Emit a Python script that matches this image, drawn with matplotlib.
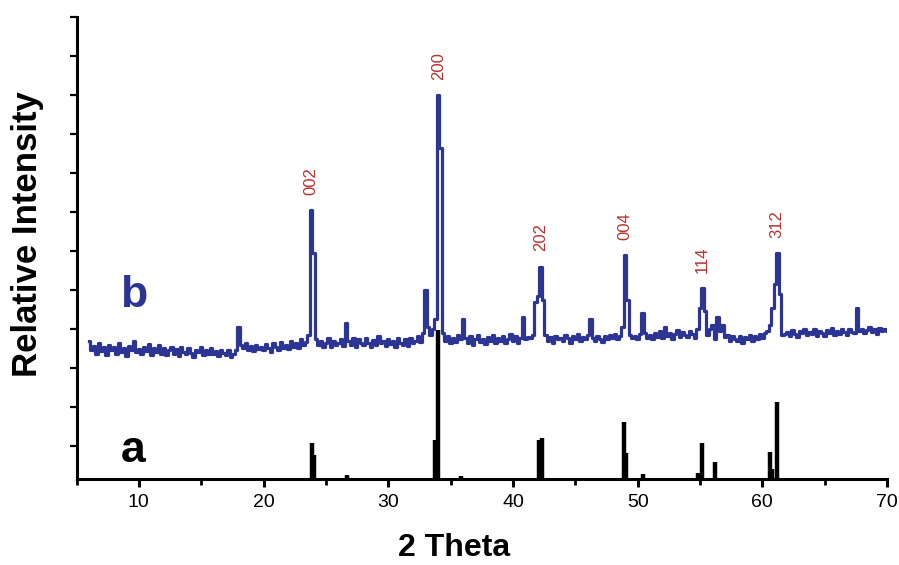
import numpy as np
import matplotlib
matplotlib.use("Agg")
import matplotlib.pyplot as plt
from matplotlib.ticker import MultipleLocator

plt.rcParams['font.family'] = ['Liberation Sans', 'DejaVu Sans']

# measured pattern (b), 2theta from 6.0 to 70.0 in 0.2 steps
theta_b = np.round(np.arange(6.0, 70.01, 0.2), 1)
inten_b = [
    3.55, 3.30, 3.42, 3.20, 3.48, 3.28, 3.40, 3.18, 3.45, 3.30,   # 6
    3.38, 3.22, 3.50, 3.27, 3.35, 3.15, 3.42, 3.30, 3.55, 3.25,   # 8
    3.33, 3.20, 3.40, 3.28, 3.47, 3.18, 3.36, 3.26, 3.44, 3.22,   # 10
    3.35, 3.17, 3.30, 3.40, 3.22, 3.33, 3.15, 3.38, 3.27, 3.20,   # 12
    3.36, 3.24, 3.12, 3.32, 3.25, 3.40, 3.18, 3.30, 3.22, 3.35,   # 14
    3.20, 3.28, 3.15, 3.30, 3.24, 3.18, 3.32, 3.14, 3.22, 3.30,   # 16
    3.90, 3.45, 3.35, 3.48, 3.30, 3.42, 3.28, 3.45, 3.33, 3.40,   # 18
    3.30, 3.46, 3.35, 3.25, 3.50, 3.38, 3.30, 3.52, 3.36, 3.44,   # 20
    3.34, 3.55, 3.40, 3.48, 3.36, 3.58, 3.44, 3.52, 3.70, 6.90,   # 22
    5.80, 3.60, 3.45, 3.55, 3.38, 3.50, 3.62, 3.40, 3.55, 3.45,   # 24
    3.48, 3.60, 3.42, 4.00, 3.55, 3.45, 3.62, 3.40, 3.58, 3.50,   # 26
    3.44, 3.62, 3.50, 3.40, 3.57, 3.45, 3.66, 3.48, 3.55, 3.42,   # 28
    3.60, 3.47, 3.55, 3.40, 3.63, 3.50, 3.45, 3.58, 3.42, 3.62,   # 30
    3.48, 3.55, 3.68, 3.52, 3.75, 4.85, 3.90, 3.70, 3.85, 4.10,   # 32
    9.85, 8.50, 3.75, 3.55, 3.68, 3.48, 3.62, 3.52, 3.70, 3.58,   # 34
    4.10, 3.62, 3.50, 3.66, 3.45, 3.58, 3.70, 3.52, 3.60, 3.47,   # 36
    3.64, 3.55, 3.70, 3.48, 3.62, 3.53, 3.68, 3.50, 3.60, 3.72,   # 38
    3.55, 3.66, 3.50, 3.62, 4.15, 3.58, 3.65, 3.62, 3.70, 4.55,   # 40
    4.70, 5.45, 4.60, 3.70, 3.55, 3.65, 3.50, 3.68, 3.58, 3.62,   # 42
    3.55, 3.70, 3.62, 3.50, 3.66, 3.58, 3.72, 3.54, 3.64, 3.60,   # 44
    3.70, 4.10, 3.62, 3.55, 3.68, 3.60, 3.52, 3.66, 3.58, 3.70,   # 46
    3.62, 3.72, 3.58, 3.68, 3.90, 5.75, 4.60, 3.70, 3.62, 3.66,   # 48
    3.60, 3.72, 4.25, 3.75, 3.62, 3.70, 3.58, 3.74, 3.65, 3.80,   # 50
    3.62, 3.90, 3.68, 3.75, 3.60, 3.72, 3.82, 3.65, 3.78, 3.70,   # 52
    3.64, 3.80, 3.72, 3.62, 3.85, 4.40, 4.90, 4.30, 3.70, 3.85,   # 54
    3.95, 3.60, 4.15, 3.80, 3.95, 3.65, 3.70, 3.55, 3.68, 3.60,   # 56
    3.55, 3.68, 3.50, 3.64, 3.58, 3.70, 3.55, 3.66, 3.60, 3.72,   # 58
    3.62, 3.75, 3.80, 3.95, 4.40, 5.00, 5.80, 4.75, 3.70, 3.72,   # 60
    3.78, 3.68, 3.82, 3.72, 3.65, 3.80, 3.74, 3.85, 3.70, 3.78,   # 62
    3.72, 3.84, 3.68, 3.80, 3.75, 3.66, 3.82, 3.74, 3.88, 3.70,   # 64
    3.80, 3.72, 3.86, 3.76, 3.70, 3.84, 3.78, 3.74, 4.40, 3.80,   # 66
    3.85, 3.74, 3.82, 3.90, 3.76, 3.84, 3.72, 3.88, 3.80, 3.86,   # 68
    3.80,                                                         # 70
]

# reference stick pattern (a)
theta_a = [23.85, 24.05, 26.7, 33.75, 33.95, 35.85, 42.05, 42.3, 48.9, 49.05,
           50.45, 54.85, 55.15, 56.2, 60.6, 60.8, 61.15]
inten_a = [0.92, 0.62, 0.10, 1.00, 3.82, 0.08, 1.00, 1.05, 1.46, 0.67,
           0.14, 0.15, 0.92, 0.44, 0.70, 0.25, 1.97]

# miller indices of labelled peaks
hkl_pos = [23.8, 34.0, 42.2, 49.0, 55.2, 61.2]
hkl_txt = ['002', '200', '202', '004', '114', '312']

blue = '#2c3594'
red = '#b8312f'

fig = plt.figure(figsize=(8.99, 5.65), dpi=100)
ax = fig.add_axes([0.0851, 0.152, 0.9016, 0.818])

ax.plot(theta_b, inten_b, color=blue, lw=2.3, drawstyle='steps-mid')
ax.vlines(theta_a, 0, inten_a, color='black', lw=3.2)

for pos, txt in zip(hkl_pos, hkl_txt):
    peak = inten_b[int(np.argmin(np.abs(theta_b - pos)))]
    ax.annotate(txt, (pos, peak), xytext=(0, 11), textcoords='offset points',
                rotation=90, ha='center', va='bottom', color=red, fontsize=12)

ax.text(9.55, 4.41, 'b', color=blue, fontsize=32, fontweight='bold',
        ha='center', va='baseline')
ax.text(9.55, 0.44, 'a', color='black', fontsize=32, fontweight='bold',
        ha='center', va='baseline')

ax.set_xlim(5, 70)
ax.set_ylim(0, 11.85)
ax.xaxis.set_major_locator(MultipleLocator(10))
ax.xaxis.set_minor_locator(MultipleLocator(5))
ax.set_yticks(np.arange(0.85, 11.9, 1.0))
ax.set_yticklabels([])

for side in ['top', 'right']:
    ax.spines[side].set_visible(False)
for side in ['left', 'bottom']:
    ax.spines[side].set_linewidth(2.2)

ax.tick_params(axis='x', which='major', direction='out', length=6, width=2.2,
               labelsize=14, pad=5)
ax.tick_params(axis='x', which='minor', direction='out', length=4, width=2)
ax.tick_params(axis='y', direction='out', length=5, width=1.6)

fig.text(0.505, 0.03, '2 Theta', fontsize=23, fontweight='bold',
         ha='center', va='center')
fig.text(0.031, 0.586, 'Relative Intensity', fontsize=25, fontweight='bold',
         rotation=90, ha='center', va='center')

fig.savefig('out.png', dpi=100)
